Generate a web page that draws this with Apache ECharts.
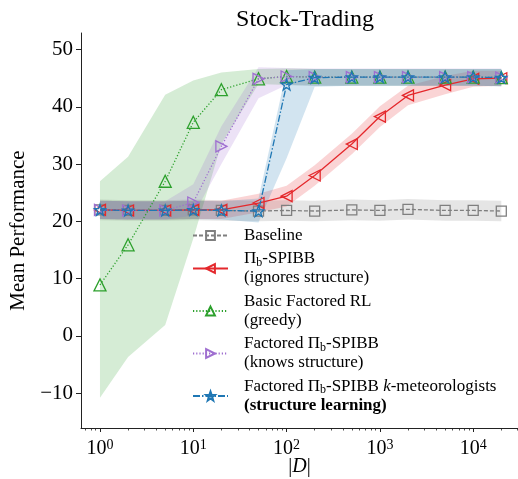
<!DOCTYPE html>
<html>
<head>
<meta charset="utf-8">
<script src="https://cdn.jsdelivr.net/npm/echarts@6/dist/echarts.min.js"></script>
<style>
html,body{margin:0;padding:0;background:#fff;}
#chart{width:518px;height:479px;}
</style>
</head>
<body>
<div id="chart"></div>
<script>
// ---- data ----
const D = [1, 2, 5, 10, 20, 50, 100, 200, 500, 1000, 2000, 5000, 10000, 20000];

const baseline     = [22.0, 21.9, 21.9, 22.0, 21.9, 21.8, 21.9, 21.8, 22.0, 21.9, 22.1, 21.9, 21.9, 21.8];
const baselineLow  = [20.2, 20.1, 20.1, 20.2, 20.1, 20.0, 20.1, 20.0, 20.2, 20.1, 20.3, 20.1, 20.1, 20.0];
const baselineHigh = [23.8, 23.7, 23.7, 23.8, 23.7, 23.6, 23.7, 23.6, 23.8, 23.7, 23.9, 23.7, 23.7, 23.6];

const spibb     = [22.0, 21.9, 21.9, 22.0, 22.0, 23.2, 24.4, 28.0, 33.5, 38.3, 42.0, 43.8, 44.9, 45.0];
const spibbLow  = [20.4, 20.3, 20.3, 20.4, 20.4, 21.6, 22.6, 26.2, 31.7, 36.5, 40.3, 42.2, 43.5, 43.7];
const spibbHigh = [23.6, 23.5, 23.5, 23.6, 23.6, 24.8, 26.2, 29.8, 35.3, 40.1, 43.7, 45.4, 46.3, 46.3];

const basic     = [8.9, 15.9, 27.0, 37.3, 43.0, 44.9, 45.3, 45.2, 45.2, 45.2, 45.2, 45.2, 45.2, 45.1];
const basicLow  = [-10.8, -3.7, 1.9, 17.0, 33.5, 44.0, 43.8, 43.7, 43.7, 43.7, 43.7, 43.7, 43.7, 43.6];
const basicHigh = [27.0, 31.3, 42.1, 44.6, 46.0, 46.6, 46.7, 46.6, 46.6, 46.6, 46.6, 46.6, 46.6, 46.6];

const known     = [22.0, 21.9, 21.9, 23.3, 33.1, 44.9, 45.3, 45.2, 45.2, 45.2, 45.2, 45.2, 45.2, 45.1];
const knownLow  = [20.4, 20.3, 20.3, 21.0, 30.0, 41.5, 43.8, 43.7, 43.7, 43.7, 43.7, 43.7, 43.7, 43.6];
const knownHigh = [23.6, 23.5, 23.5, 26.5, 36.6, 46.9, 46.8, 46.7, 46.7, 46.7, 46.7, 46.7, 46.7, 46.7];

const kmet     = [22.0, 21.9, 21.9, 22.0, 21.9, 21.8, 43.9, 45.1, 45.2, 45.2, 45.2, 45.2, 45.2, 45.1];
const kmetLow  = [20.4, 20.3, 20.3, 20.4, 20.3, 19.8, 31.0, 43.5, 43.7, 43.7, 43.7, 43.7, 43.7, 43.6];
const kmetHigh = [23.6, 23.5, 23.5, 23.6, 23.5, 24.0, 46.4, 46.6, 46.6, 46.6, 46.6, 46.6, 46.6, 46.6];

const yTicks = [-10, 0, 10, 20, 30, 40, 50];
const xTicks = [1, 10, 100, 1000, 10000];
const xMinorTicks = [0.7, 0.8, 0.9, 2, 3, 4, 5, 6, 7, 8, 9, 20, 30, 40, 50, 60, 70, 80, 90,
  200, 300, 400, 500, 600, 700, 800, 900, 2000, 3000, 4000, 5000, 6000, 7000, 8000, 9000, 20000, 30000];

const seriesNames = ['Baseline', 'Pi_b-SPIBB', 'Basic Factored RL', 'Factored Pi_b-SPIBB', 'Factored Pi_b-SPIBB k-meteorologists'];
const legendLabels = {
  'Baseline': '{n|Baseline}',
  'Pi_b-SPIBB': '{n|Π}{s|b}{n|-SPIBB}\n{n|(ignores structure)}',
  'Basic Factored RL': '{n|Basic Factored RL}\n{n|(greedy)}',
  'Factored Pi_b-SPIBB': '{n|Factored Π}{s|b}{n|-SPIBB}\n{n|(knows structure)}',
  'Factored Pi_b-SPIBB k-meteorologists': '{n|Factored Π}{s|b}{n|-SPIBB }{i|k}{n|-meteorologists}\n{bd|(structure learning)}'
};

// ---- styling ----
const FONT = 'Liberation Serif';
const colors = ['#7f7f7f', '#e4282c', '#2ca02c', '#9f6fd0', '#1f77b4'];
const bandColors = ['rgba(127,127,127,0.2)', 'rgba(228,40,44,0.2)', 'rgba(44,160,44,0.2)', 'rgba(159,111,208,0.2)', 'rgba(31,119,180,0.2)'];
const lineTypes = [[4, 2], 'solid', [1.2, 2], [1.2, 2], [7, 2, 1.5, 2]];
const symbols = ['rect', 'triangle', 'triangle', 'triangle',
  'path://M0,-10 L2.35,-3.24 9.51,-3.09 3.8,1.24 5.88,8.09 0,4 -5.88,8.09 -3.8,1.24 -9.51,-3.09 -2.35,-3.24Z'];
const symbolRot = [0, 90, 0, -90, 0];
const symbolSizes = [10, 11, 12, 11, 11];

const means = [baseline, spibb, basic, known, kmet];
const lows = [baselineLow, spibbLow, basicLow, knownLow, kmetLow];
const highs = [baselineHigh, spibbHigh, basicHigh, knownHigh, kmetHigh];

const series = [];
// bands: one polygon per method, mapped through the axes with api.coord
means.forEach((m, k) => {
  series.push({
    type: 'custom', name: 'band-' + k, silent: true, z: 1,
    xAxisIndex: 0, yAxisIndex: 0,
    data: [[D[0], lows[k][0]]],
    encode: { x: 0, y: 1 },
    renderItem: function (params, api) {
      const pts = [];
      for (let i = 0; i < D.length; i++) pts.push(api.coord([D[i], highs[k][i]]));
      for (let i = D.length - 1; i >= 0; i--) pts.push(api.coord([D[i], lows[k][i]]));
      return { type: 'polygon', shape: { points: pts }, style: { fill: bandColors[k], stroke: null } };
    }
  });
});
// lines
means.forEach((m, k) => {
  series.push({
    type: 'line', name: seriesNames[k],
    data: D.map((d, i) => [d, m[i]]),
    symbol: symbols[k], symbolSize: symbolSizes[k], symbolRotate: symbolRot[k],
    showAllSymbol: true,
    lineStyle: { color: colors[k], width: 1.3, type: lineTypes[k] },
    itemStyle: { color: 'rgba(255,255,255,0)', borderColor: colors[k], borderWidth: 1.3 },
    emphasis: { disabled: true },
    z: 3 + k
  });
});

const chart = echarts.init(document.getElementById('chart'), null, { renderer: 'canvas' });
chart.setOption({
  animation: false,
  backgroundColor: '#fff',
  title: {
    text: 'Stock-Trading', left: 300, top: 3, textAlign: 'center',
    textStyle: { fontFamily: FONT, fontSize: 24, fontWeight: 'normal', color: '#000' }
  },
  grid: { left: 81, right: 0, top: 33, bottom: 51, containLabel: false, outerBoundsMode: 'none' },
  legend: {
    orient: 'vertical', left: 187, top: 221,
    data: seriesNames,
    itemWidth: 35, itemHeight: 11, itemGap: 4.5,
    selectedMode: false,
    formatter: n => legendLabels[n],
    textStyle: {
      fontFamily: FONT, fontSize: 17, color: '#000', lineHeight: 19, padding: [0, 0, 0, 11],
      rich: {
        n: { fontFamily: FONT, fontSize: 17, lineHeight: 19, color: '#000' },
        s: { fontFamily: FONT, fontSize: 12, lineHeight: 8, verticalAlign: 'bottom', color: '#000' },
        i: { fontFamily: FONT, fontSize: 17, fontStyle: 'italic', lineHeight: 19, color: '#000' },
        bd: { fontFamily: FONT, fontSize: 17, fontWeight: 'bold', lineHeight: 19, color: '#000' }
      }
    }
  },
  xAxis: [{
    type: 'log', logBase: 10, min: 0.626, max: 30200,
    name: '{n||}{i|D}{n||}', nameLocation: 'middle', nameGap: 29, nameMoveOverlap: false,
    nameTextStyle: { fontFamily: FONT, fontSize: 20, color: '#000',
      rich: {
        n: { fontFamily: FONT, fontSize: 20, color: '#000' },
        i: { fontFamily: FONT, fontSize: 20, fontStyle: 'italic', color: '#000' }
      } },
    axisLine: { show: true, onZero: false, lineStyle: { color: '#222', width: 1 } },
    axisTick: { show: true, length: 4, customValues: xTicks, lineStyle: { color: '#222', width: 1 } },
    axisLabel: {
      customValues: xTicks, margin: 10, fontFamily: FONT, fontSize: 20, color: '#000', lineHeight: 22,
      formatter: v => '10{sup|' + Math.round(Math.log10(v)) + '}',
      rich: { sup: { fontFamily: FONT, fontSize: 14, lineHeight: 12, verticalAlign: 'top', color: '#000' } }
    },
    splitLine: { show: false }, minorTick: { show: false }
  }, {
    type: 'log', logBase: 10, min: 0.626, max: 30200, gridIndex: 0, position: 'bottom',
    axisLine: { show: false, onZero: false },
    axisTick: { show: true, length: 2.5, customValues: xMinorTicks, lineStyle: { color: '#222', width: 0.8 } },
    axisLabel: { show: false }, splitLine: { show: false }
  }],
  yAxis: {
    type: 'value', min: -16.1, max: 52.9,
    name: 'Mean Performance', nameLocation: 'middle', nameGap: 52, nameRotate: 90,
    nameTextStyle: { fontFamily: FONT, fontSize: 21, color: '#000' },
    axisLine: { show: true, onZero: false, lineStyle: { color: '#222', width: 1 } },
    axisTick: { show: true, length: 5, customValues: yTicks, lineStyle: { color: '#222', width: 1 } },
    axisLabel: {
      customValues: yTicks, margin: 8, fontFamily: FONT, fontSize: 21, color: '#000',
      formatter: v => (v < 0 ? '\u2212' + (-v) : String(v))
    },
    splitLine: { show: false }
  },
  series: series
});
</script>
</body>
</html>
